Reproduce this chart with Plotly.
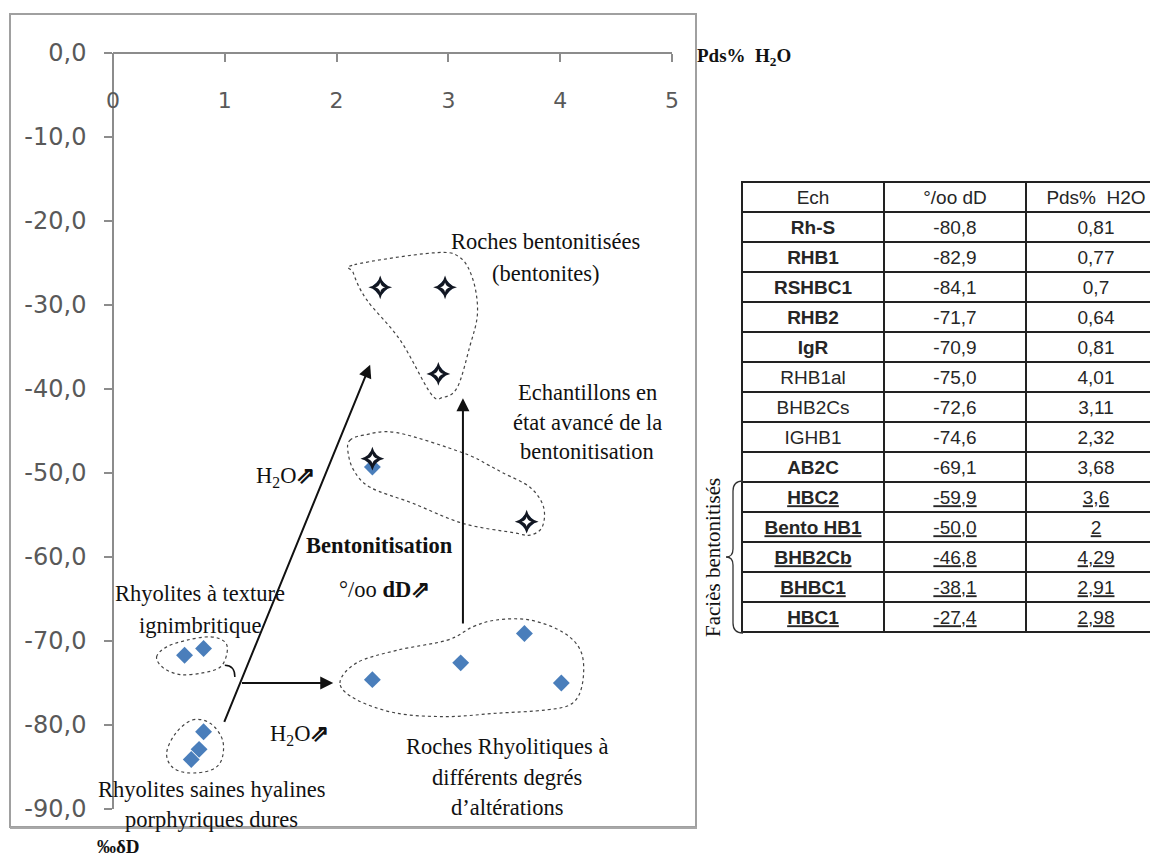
import plotly.graph_objects as go

# ---------------- data ----------------
# scatter groups (Pds% H2O, ‰ δD)
HYAL_X = [0.81, 0.77, 0.70]
HYAL_Y = [-80.8, -82.9, -84.1]
IGNI_X = [0.64, 0.81]
IGNI_Y = [-71.7, -70.9]
ALT_X = [4.01, 3.11, 2.32, 3.68]
ALT_Y = [-75.0, -72.6, -74.6, -69.1]
BENTO_X = [2.39, 2.97, 2.91, 2.32, 3.70]
BENTO_Y = [-27.9, -27.9, -38.2, -49.3, -55.8]
STAR_X = [2.39, 2.97, 2.91, 2.32, 3.70]
STAR_Y = [-27.9, -27.9, -38.2, -48.3, -55.8]

X_TICKS = [0, 1, 2, 3, 4, 5]
X_TICK_LABELS = ["0", "1", "2", "3", "4", "5"]
Y_TICKS = [0, -10, -20, -30, -40, -50, -60, -70, -80, -90]
Y_TICK_LABELS = ["0,0", "-10,0", "-20,0", "-30,0", "-40,0", "-50,0",
                 "-60,0", "-70,0", "-80,0", "-90,0"]

# table
TABLE_HEADER = ["Ech", "°/oo dD", "Pds%  H2O"]
TABLE_ECH = ["Rh-S", "RHB1", "RSHBC1", "RHB2", "IgR", "RHB1al", "BHB2Cs",
             "IGHB1", "AB2C", "HBC2", "Bento HB1", "BHB2Cb", "BHBC1", "HBC1"]
TABLE_DD = ["-80,8", "-82,9", "-84,1", "-71,7", "-70,9", "-75,0", "-72,6",
            "-74,6", "-69,1", "-59,9", "-50,0", "-46,8", "-38,1", "-27,4"]
TABLE_H2O = ["0,81", "0,77", "0,7", "0,64", "0,81", "4,01", "3,11",
             "2,32", "3,68", "3,6", "2", "4,29", "2,91", "2,98"]

# ---------------- helpers ----------------
W, H = 1158, 859
OFF = 8  # page body margin: figure origin sits at (8, 8) on screen


def px(x):
    return (x - OFF) / W


def py(y):
    return 1 - (y - OFF) / H


def closed_path(pts):
    n = len(pts)
    s = f"M {pts[0][0]},{pts[0][1]}"
    for i in range(n):
        p0 = pts[i - 1]
        p1 = pts[i]
        p2 = pts[(i + 1) % n]
        p3 = pts[(i + 2) % n]
        c1 = (p1[0] + (p2[0] - p0[0]) / 6, p1[1] + (p2[1] - p0[1]) / 6)
        c2 = (p2[0] - (p3[0] - p1[0]) / 6, p2[1] - (p3[1] - p1[1]) / 6)
        s += f" C {c1[0]:.3f},{c1[1]:.3f} {c2[0]:.3f},{c2[1]:.3f} {p2[0]:.3f},{p2[1]:.3f}"
    return s + " Z"


SERIF = "Liberation Serif"
SANS = "DejaVu Sans"
BLUE = "#4A7EBB"
TFS = 22.5

fig = go.Figure()

# markers
for gx, gy in [(HYAL_X, HYAL_Y), (IGNI_X, IGNI_Y), (ALT_X, ALT_Y), (BENTO_X, BENTO_Y)]:
    fig.add_trace(go.Scatter(x=gx, y=gy, mode="markers", hoverinfo="skip",
                             marker=dict(symbol="diamond", size=13, color=BLUE,
                                         line=dict(width=0)),
                             showlegend=False, cliponaxis=False))
fig.add_trace(go.Scatter(x=STAR_X, y=STAR_Y, mode="markers", hoverinfo="skip",
                         marker=dict(symbol="star-diamond", size=17, color="#121722",
                                     line=dict(width=0)),
                         showlegend=False, cliponaxis=False))
fig.add_trace(go.Scatter(x=STAR_X, y=STAR_Y, mode="markers", hoverinfo="skip",
                         marker=dict(symbol="star-diamond", size=7, color="white",
                                     line=dict(width=0)),
                         showlegend=False, cliponaxis=False))

# table, built as three stacked blocks so weights / underline can differ per row
ROW_H = 30
TABLE_TOP = 182
LINE = dict(color="#222", width=1.5)
blocks = [
    # header values, header weights, row slice, cell weights, cell underline
    (TABLE_HEADER, ["normal", "normal", "normal"], slice(0, 5),
     ["bold", "normal", "normal"], "none"),
    ([TABLE_ECH[5], TABLE_DD[5], TABLE_H2O[5]], ["normal", "normal", "normal"],
     slice(6, 8), ["normal", "normal", "normal"], "none"),
    ([TABLE_ECH[8], TABLE_DD[8], TABLE_H2O[8]], ["bold", "normal", "normal"],
     slice(9, 14), ["bold", "normal", "normal"], "under"),
]
top = TABLE_TOP
for hvals, hweight, sl, cweight, cline in blocks:
    nrows = 1 + len(TABLE_ECH[sl])
    bottom = top + nrows * ROW_H
    fig.add_trace(go.Table(
        domain=dict(x=[px(742), 1.0], y=[py(bottom + 3), py(top)]),
        columnwidth=[142, 142, 140],
        header=dict(values=hvals, height=ROW_H, fill_color="white", line=LINE,
                    align="center",
                    font=dict(family="Liberation Sans", size=19, color="#262626",
                              weight=hweight)),
        cells=dict(values=[TABLE_ECH[sl], TABLE_DD[sl], TABLE_H2O[sl]],
                   height=ROW_H, fill_color="white", line=LINE, align="center",
                   font=dict(family="Liberation Sans", size=19, color="#262626",
                             weight=cweight, lineposition=[cline] * 3)),
    ))
    top = bottom

shapes = []
# outer chart border (with a slightly heavier bottom edge, as in the original)
shapes.append(dict(type="rect", xref="paper", yref="paper",
                   x0=px(10), x1=px(696), y0=py(827), y1=py(14),
                   line=dict(color="#A0A0A0", width=2), layer="below"))
shapes.append(dict(type="line", xref="paper", yref="paper",
                   x0=px(10), x1=px(697), y0=py(828), y1=py(828),
                   line=dict(color="#A8A8A8", width=2), layer="below"))

# dotted enclosures (data coordinates)
outlines = [
    [(2.16, -25.2), (2.86, -23.8), (3.10, -24.3), (3.22, -27.0), (3.26, -31.0),
     (3.19, -35.0), (3.08, -39.8), (2.95, -41.0), (2.84, -40.5), (2.57, -34.2),
     (2.27, -29.4), (2.15, -26.2)],
    [(2.12, -46.1), (2.24, -45.5), (2.54, -45.2), (3.13, -47.6), (3.35, -49.0),
     (3.49, -50.0), (3.73, -51.7), (3.85, -54.0), (3.84, -56.4), (3.73, -57.4),
     (3.58, -57.1), (3.13, -56.0), (2.68, -53.6), (2.30, -51.7), (2.15, -49.6),
     (2.10, -47.3)],
    [(2.03, -75.0), (2.18, -72.6), (2.54, -71.1), (2.99, -69.9), (3.22, -68.3),
     (3.43, -67.5), (3.73, -67.5), (4.03, -69.0), (4.19, -71.4), (4.20, -75.0),
     (4.11, -77.4), (3.88, -78.2), (3.43, -78.6), (2.99, -79.0), (2.54, -78.6),
     (2.18, -77.0)],
    [(0.39, -71.9), (0.48, -70.7), (0.66, -69.9), (0.87, -69.5), (1.00, -70.1),
     (1.02, -71.4), (0.96, -73.1), (0.80, -73.8), (0.60, -74.0), (0.45, -73.2)],
    [(0.71, -79.4), (0.87, -79.8), (0.98, -81.8), (0.97, -84.2), (0.87, -85.4),
     (0.67, -85.7), (0.53, -85.0), (0.48, -83.3), (0.56, -81.0)],
]
for pts in outlines:
    shapes.append(dict(type="path", xref="x", yref="y", path=closed_path(pts),
                       line=dict(color="#444", width=1.2, dash="dot"), layer="below"))

# small bracket joining ignimbritic group to the arrow
shapes.append(dict(type="path", xref="x", yref="y",
                   path="M 1.00,-72.9 Q 1.09,-72.9 1.09,-74.3",
                   line=dict(color="#111", width=1.5)))


def P(x, y):
    return f"{px(x):.5f},{py(y):.5f}"


brace = (f"M {P(743,481)} Q {P(733,481)} {P(733,491)} L {P(733,549)} "
         f"Q {P(733,557)} {P(726,557)} Q {P(733,557)} {P(733,565)} "
         f"L {P(733,623)} Q {P(733,633)} {P(743,633)}")
shapes.append(dict(type="path", xref="paper", yref="paper", path=brace,
                   line=dict(color="#333", width=1.3)))

annotations = []
# arrows
for (tx, ty), (ax_, ay_) in [((2.30, -37.1), (0.99, -79.8)),
                             ((1.97, -75.0), (1.14, -75.0)),
                             ((3.13, -41.1), (3.13, -68.1))]:
    annotations.append(dict(x=tx, y=ty, ax=ax_, ay=ay_, xref="x", yref="y",
                            axref="x", ayref="y", text="", showarrow=True,
                            arrowhead=2, arrowsize=1.3, arrowwidth=2,
                            arrowcolor="#111", standoff=0, startstandoff=0))

ARW = '<b>⇗</b>'
texts = [
    ("Roches bentonitisées", 3.864, -22.5),
    ("(bentonites)", 3.864, -26.2),
    ("Echantillons en", 4.24, -40.4),
    ("état avancé de la", 4.24, -44.0),
    ("bentonitisation", 4.24, -47.5),
    ("H<sub>2</sub>O" + ARW, 1.54, -50.5),
    ("<b>Bentonitisation</b>", 2.38, -58.6),
    ("°/oo <b>dD</b>" + ARW, 2.43, -63.9),
    ("Rhyolites à texture", 0.78, -64.3),
    ("ignimbritique", 0.78, -68.2),
    ("H<sub>2</sub>O" + ARW, 1.67, -81.2),
    ("Roches Rhyolitiques à", 3.52, -82.6),
    ("différents degrés", 3.52, -86.3),
    ("d’altérations", 3.52, -89.8),
    ("Rhyolites saines hyalines", 0.88, -87.7),
]
for t, x, y in texts:
    annotations.append(dict(x=x, y=y, xref="x", yref="y", text=t, showarrow=False,
                            xanchor="center", yanchor="middle",
                            font=dict(family=SERIF, size=TFS, color="#111")))

paper_texts = [
    ("porphyriques dures", 211, 819, "center", 0, TFS),
    ("<b>Pds%  H<sub>2</sub>O</b>", 695, 57, "left", 0, 19),
    ("<b>‰δD</b>", 118, 846, "center", 0, 19),
    ("Faciès bentonitisés", 713, 558, "center", -90, 21),
]
for t, x, y, xa, ang, fs in paper_texts:
    annotations.append(dict(x=px(x), y=py(y), xref="paper", yref="paper", text=t,
                            showarrow=False, textangle=ang, xanchor=xa,
                            yanchor="middle",
                            font=dict(family=SERIF, size=fs, color="#111")))

AXIS_COLOR = "#8C8C8C"
fig.update_layout(
    width=W, height=H,
    margin=dict(l=0, r=0, t=0, b=0, autoexpand=False),
    paper_bgcolor="white", plot_bgcolor="white",
    showlegend=False,
    xaxis=dict(range=[0, 5], domain=[px(113), px(672)], anchor="free",
               position=py(53), side="bottom", showline=True,
               linecolor=AXIS_COLOR, linewidth=1.5, ticks="outside", ticklen=8,
               tickcolor=AXIS_COLOR, tickwidth=1.5, tickvals=X_TICKS,
               ticktext=X_TICK_LABELS, showgrid=False, zeroline=False,
               tickfont=dict(family=SANS, size=22, color="#595959"),
               ticklabelstandoff=20, fixedrange=True, automargin=False),
    yaxis=dict(range=[-90, 0], domain=[py(809), py(53)], anchor="free",
               position=px(113), side="left", showline=True,
               linecolor=AXIS_COLOR, linewidth=1.5, ticks="outside", ticklen=8,
               tickcolor=AXIS_COLOR, tickwidth=1.5, tickvals=Y_TICKS,
               ticktext=Y_TICK_LABELS, showgrid=False, zeroline=False,
               tickfont=dict(family=SANS, size=24, color="#595959"),
               ticklabelstandoff=13, fixedrange=True, automargin=False),
    shapes=shapes,
    annotations=annotations,
)

fig.write_html("out.html")
